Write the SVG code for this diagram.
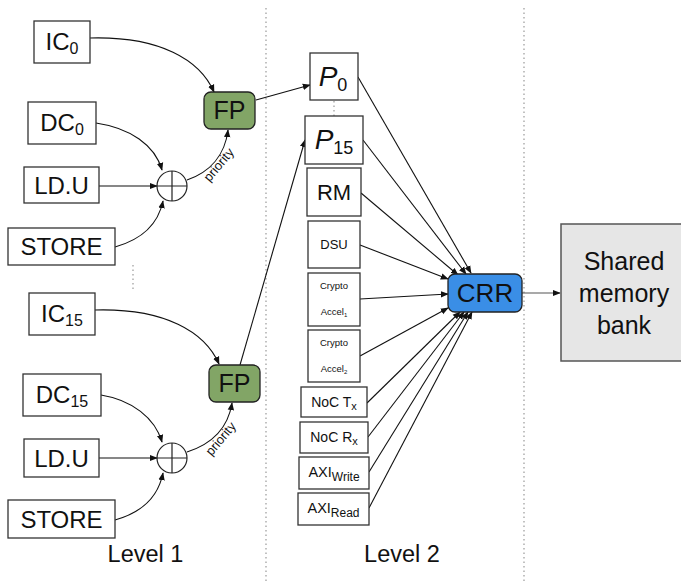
<svg xmlns="http://www.w3.org/2000/svg" width="681" height="583" viewBox="0 0 681 583">
<defs>
<style>
text{font-family:"Liberation Sans",Arial,sans-serif;fill:#111;}
.box{fill:#fff;stroke:#333;stroke-width:1.3;}
.fp{fill:#82a566;stroke:#222;stroke-width:1.3;}
.crr{fill:#3a8ee6;stroke:#222;stroke-width:1.3;}
.mem{fill:#e6e6e6;stroke:#555;stroke-width:1.5;}
.sep{stroke:#999;stroke-width:1.2;stroke-dasharray:1.5 3;fill:none;}
.e{fill:none;stroke:#111;stroke-width:1.1;marker-end:url(#ah);}
.mid{text-anchor:middle;}
</style>
<marker id="ah" viewBox="0 0 10 10" refX="9" refY="5" markerWidth="8" markerHeight="8" markerUnits="userSpaceOnUse" orient="auto">
<path d="M0,1 L10,5 L0,9 Z" fill="#111"/>
</marker>
</defs>

<g id="separators">
<line class="sep" x1="266" y1="8" x2="266" y2="583"/>
<line class="sep" x1="524" y1="8" x2="524" y2="583"/>
<line class="sep" x1="133" y1="265" x2="133" y2="292"/>
<line class="sep" x1="334" y1="101" x2="334" y2="116"/>
</g>

<g id="connectors">
<path class="e" d="M90,38 C160,36 200,60 214,92"/>
<path class="e" d="M96,123 C130,128 155,145 162,170"/>
<path class="e" d="M99,186 L157,186"/>
<path class="e" d="M115,247 C140,240 158,225 163,201"/>
<path class="e" d="M187,180 C210,172 225,155 228,130"/>
<path class="e" d="M256,100 L310,85"/>
<path class="e" d="M95,310 C165,308 205,332 219,364"/>
<path class="e" d="M101,395 C132,400 155,418 162,442"/>
<path class="e" d="M99,458 L157,458"/>
<path class="e" d="M115,520 C140,513 158,498 163,473"/>
<path class="e" d="M187,452 C212,444 228,428 232,403"/>
<path class="e" d="M240,365 L305,140"/>
<path class="e" d="M358,77 L471,273"/>
<path class="e" d="M363,140 L466,274"/>
<path class="e" d="M361,193 L458,275"/>
<path class="e" d="M360,245 L448,279"/>
<path class="e" d="M360,299 L448,294"/>
<path class="e" d="M360,356 L448,308"/>
<path class="e" d="M367,403 L460,312"/>
<path class="e" d="M368,437 L464,312"/>
<path class="e" d="M369,472 L468,312"/>
<path class="e" d="M369,508 L472,312"/>
<path class="e" d="M522,293 L560,293" style="stroke:#555"/>
<text x="219" y="169" font-size="13" class="mid" transform="rotate(-50 219 165)">priority</text>
<text x="221" y="443" font-size="13" class="mid" transform="rotate(-50 221 439)">priority</text>
</g>

<g id="IC0"><rect class="box" x="34" y="21" width="56" height="42"/><text x="62" y="50" font-size="24" class="mid">IC<tspan font-size="16" dy="4">0</tspan></text></g>
<g id="DC0"><rect class="box" x="28" y="102" width="68" height="42"/><text x="62" y="131" font-size="24" class="mid">DC<tspan font-size="16" dy="4">0</tspan></text></g>
<g id="LDU0"><rect class="box" x="24" y="167" width="75" height="36"/><text x="61.5" y="194" font-size="24" class="mid">LD.U</text></g>
<g id="STORE0"><rect class="box" x="8" y="228" width="107" height="37"/><text x="61.5" y="255" font-size="24" class="mid">STORE</text></g>
<g id="merge0"><circle cx="172" cy="186" r="15" fill="#fff" stroke="#222" stroke-width="1.2"/><path d="M172,171 V201 M157,186 H187" stroke="#222" stroke-width="1.2"/></g>
<g id="FP0"><rect class="fp" x="204" y="92" width="51" height="37" rx="7"/><text x="229.5" y="119" font-size="25" class="mid">FP</text></g>

<g id="IC15"><rect class="box" x="29" y="293" width="66" height="42"/><text x="62" y="322" font-size="24" class="mid">IC<tspan font-size="16" dy="4">15</tspan></text></g>
<g id="DC15"><rect class="box" x="23" y="374" width="78" height="42"/><text x="62" y="403" font-size="24" class="mid">DC<tspan font-size="16" dy="4">15</tspan></text></g>
<g id="LDU15"><rect class="box" x="24" y="439" width="75" height="38"/><text x="61.5" y="467" font-size="24" class="mid">LD.U</text></g>
<g id="STORE15"><rect class="box" x="8" y="500" width="107" height="38"/><text x="61.5" y="528" font-size="24" class="mid">STORE</text></g>
<g id="merge15"><circle cx="172" cy="458" r="15" fill="#fff" stroke="#222" stroke-width="1.2"/><path d="M172,443 V473 M157,458 H187" stroke="#222" stroke-width="1.2"/></g>
<g id="FP15"><rect class="fp" x="209" y="365" width="51" height="37" rx="7"/><text x="234.5" y="392" font-size="25" class="mid">FP</text></g>

<g id="P0"><rect class="box" x="310" y="53" width="48" height="47"/><text x="333" y="86" font-size="28" class="mid"><tspan font-style="italic">P</tspan><tspan font-size="18" dy="5">0</tspan></text></g>
<g id="P15"><rect class="box" x="305" y="116" width="58" height="48"/><text x="334" y="149" font-size="28" class="mid"><tspan font-style="italic">P</tspan><tspan font-size="18" dy="5">15</tspan></text></g>
<g id="RM"><rect class="box" x="307" y="168" width="54" height="48"/><text x="334" y="200" font-size="22" class="mid">RM</text></g>
<g id="DSU"><rect class="box" x="308" y="221" width="52" height="47"/><text x="334" y="249" font-size="13" class="mid">DSU</text></g>
<g id="Crypto1"><rect class="box" x="308" y="273" width="52" height="53"/><text x="334" y="289" font-size="9.5" class="mid">Crypto</text><text x="334" y="315" font-size="9.5" class="mid">Accel<tspan font-size="6" dy="2">1</tspan></text></g>
<g id="Crypto2"><rect class="box" x="308" y="330" width="52" height="52"/><text x="334" y="346" font-size="9.5" class="mid">Crypto</text><text x="334" y="372" font-size="9.5" class="mid">Accel<tspan font-size="6" dy="2">2</tspan></text></g>
<g id="NoCTx"><rect class="box" x="301" y="387" width="66" height="30"/><text x="334" y="407" font-size="14" class="mid">NoC T<tspan font-size="11" dy="3">x</tspan></text></g>
<g id="NoCRx"><rect class="box" x="300" y="422" width="68" height="31"/><text x="334" y="442" font-size="14" class="mid">NoC R<tspan font-size="11" dy="3">x</tspan></text></g>
<g id="AXIWrite"><rect class="box" x="299" y="457" width="70" height="32"/><text x="334" y="477" font-size="14.5" class="mid">AXI<tspan font-size="12" dy="4">Write</tspan></text></g>
<g id="AXIRead"><rect class="box" x="298" y="493" width="71" height="32"/><text x="333.5" y="513" font-size="14.5" class="mid">AXI<tspan font-size="12" dy="4">Read</tspan></text></g>

<g id="CRR"><rect class="crr" x="448" y="274" width="74" height="38" rx="7"/><text x="485" y="302" font-size="26" class="mid">CRR</text></g>
<g id="SharedMemory"><rect class="mem" x="561" y="224" width="130" height="137"/><text x="624" y="270" font-size="25" class="mid">Shared</text><text x="624" y="302" font-size="25" class="mid">memory</text><text x="624" y="334" font-size="25" class="mid">bank</text></g>

<g id="levels">
<text x="145.5" y="562" font-size="23.5" class="mid">Level 1</text>
<text x="402" y="562" font-size="23.5" class="mid">Level 2</text>
</g>
</svg>
